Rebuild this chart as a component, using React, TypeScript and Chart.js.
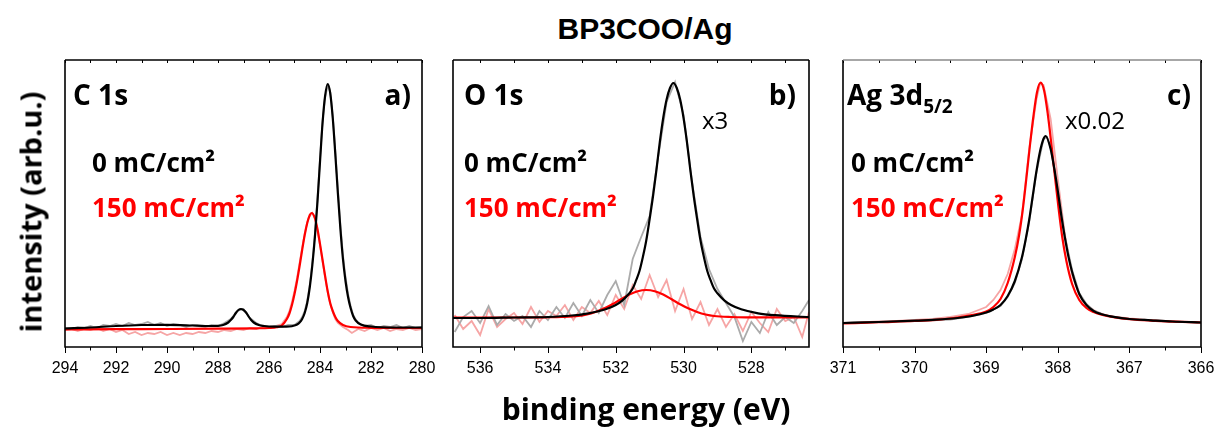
import React, { useEffect, useRef } from "react";
import { Chart, registerables } from "chart.js";

Chart.register(...registerables);

type Pt = [number, number];

// ---------- Panel a) C 1s ----------
const c1sFit0: Pt[] = [[294, 18.5], [293, 19.5], [292, 21], [291, 22], [290, 22.2], [289, 21.5], [288.5, 21], [288, 21.2], [287.8, 22], [287.6, 24.5], [287.5, 27], [287.4, 30], [287.3, 34], [287.2, 37], [287.1, 38], [287.0, 37], [286.9, 34.5], [286.8, 30.5], [286.7, 27], [286.6, 24.5], [286.4, 22], [286.2, 21], [286, 20.5], [285.5, 20.3], [285.2, 20.5], [285.0, 21.5], [284.9, 22.5], [284.8, 24.5], [284.7, 28], [284.6, 34], [284.5, 44], [284.4, 60], [284.3, 82], [284.2, 110], [284.1, 145], [284.0, 185], [283.9, 224], [283.8, 251], [283.7, 263], [283.6, 254], [283.5, 229], [283.4, 193], [283.3, 154], [283.2, 118], [283.1, 88], [283.0, 66], [282.9, 50], [282.8, 39], [282.7, 31], [282.6, 26.5], [282.4, 22.5], [282.0, 20.5], [281, 19.5], [280, 19.5]];
const c1sFit150: Pt[] = [[294, 17.5], [292, 17.8], [290, 18], [288, 18.3], [286.5, 18.7], [286, 19], [285.7, 19.7], [285.5, 21.5], [285.3, 28], [285.2, 33.5], [285.1, 42], [285.0, 53], [284.9, 66], [284.8, 81], [284.7, 97], [284.6, 112], [284.5, 124], [284.4, 132], [284.33, 134], [284.2, 129], [284.1, 118], [284.0, 103], [283.9, 87], [283.8, 71], [283.7, 56], [283.6, 44], [283.5, 36], [283.4, 30], [283.3, 26], [283.1, 22], [282.8, 20], [282.0, 19.2], [280, 19]];
const c1sRaw0: Pt[] = [[294, 19], [293.75, 18], [293.5, 20], [293.25, 19], [293, 21], [292.75, 19], [292.5, 22], [292.25, 21], [292, 23], [291.75, 21], [291.5, 24], [291.25, 22], [291, 23], [290.75, 25], [290.5, 22], [290.25, 24], [290, 21], [289.75, 23], [289.5, 22], [289.25, 20], [289, 22], [288.75, 21], [288.5, 20], [288.25, 22], [288, 21], [287.75, 24], [287.5, 28], [287.25, 36], [287, 38], [286.75, 29], [286.5, 24], [286.25, 21], [286, 20], [285.75, 21], [285.5, 20], [285.25, 22], [285.0, 22], [284.9, 24], [284.8, 26], [284.7, 30], [284.6, 36], [284.5, 46], [284.4, 62], [284.3, 85], [284.2, 113], [284.1, 148], [284.0, 188], [283.9, 226], [283.8, 250], [283.7, 261], [283.6, 255], [283.5, 231], [283.4, 196], [283.3, 158], [283.2, 122], [283.1, 92], [283.0, 70], [282.9, 53], [282.8, 41], [282.7, 32], [282.6, 27.5], [282.5, 24], [282.25, 21], [282, 22], [281.75, 19], [281.5, 21], [281.25, 20], [281, 22], [280.75, 19], [280.5, 21], [280.25, 19], [280, 20]];
const c1sRaw150: Pt[] = [[294, 17], [293.75, 18], [293.5, 16], [293.25, 18], [293, 17], [292.75, 19], [292.5, 16], [292.25, 18], [292, 15], [291.75, 17], [291.5, 13], [291.25, 15], [291, 12], [290.75, 14], [290.5, 13], [290.25, 15], [290, 12], [289.75, 14], [289.5, 12], [289.25, 14], [289, 13], [288.75, 15], [288.5, 14], [288.25, 16], [288, 15], [287.75, 17], [287.5, 16], [287.25, 18], [287, 17], [286.75, 19], [286.5, 18], [286.25, 20], [286, 19], [285.75, 21], [285.5, 23], [285.3, 30], [285.2, 36], [285.1, 45], [285.0, 56], [284.9, 69], [284.8, 84], [284.7, 99], [284.6, 113], [284.5, 125], [284.4, 131], [284.3, 134], [284.2, 128], [284.1, 117], [284.0, 102], [283.9, 86], [283.8, 70], [283.7, 55], [283.6, 43], [283.5, 35], [283.4, 28], [283.3, 24], [283.1, 20], [282.9, 17], [282.75, 14], [282.5, 18], [282.25, 16], [282, 19], [281.75, 17], [281.5, 19], [281.25, 16], [281, 18], [280.75, 17], [280.5, 19], [280.25, 17], [280, 18]];

// ---------- Panel b) O 1s ----------
const o1sFit0: Pt[] = [[536.8, 29], [536, 29], [535, 29.5], [534, 30], [533.3, 31.5], [532.8, 33.7], [532.3, 37.7], [532.0, 42], [531.8, 46.6], [531.6, 53.7], [531.5, 58.4], [531.4, 66.6], [531.3, 76], [531.2, 90], [531.1, 106.5], [531.0, 128], [530.9, 151], [530.8, 177], [530.7, 205], [530.6, 229], [530.5, 247.5], [530.4, 259], [530.3, 264], [530.2, 259], [530.1, 247.5], [530.0, 229], [529.9, 205], [529.8, 177], [529.7, 151], [529.6, 128], [529.5, 106.5], [529.4, 90], [529.3, 76], [529.2, 66.6], [529.1, 58.4], [529.0, 53.7], [528.8, 46.6], [528.6, 42], [528.3, 37.7], [527.8, 33.7], [527.3, 31.8], [526.3, 30]];
const o1sFit150: Pt[] = [[536.8, 29.5], [534.5, 29.5], [534.1, 29.7], [533.6, 30], [533.1, 31], [532.85, 32.5], [532.6, 35], [532.35, 38.4], [532.1, 42.7], [531.85, 47.7], [531.6, 52.4], [531.35, 55.8], [531.1, 57], [530.85, 55.8], [530.6, 52.4], [530.35, 47.7], [530.1, 42.7], [529.85, 38.4], [529.6, 35], [529.35, 32.5], [529.1, 31], [528.6, 30], [528.1, 29.7], [526.3, 29.5]];
const o1sRaw0: Pt[] = [[536.75, 15], [536.5, 30], [536.25, 36], [536.0, 24], [535.75, 41], [535.5, 22], [535.25, 33], [535.0, 26], [534.75, 31], [534.5, 20], [534.25, 36], [534.0, 27], [533.75, 40], [533.5, 29], [533.25, 44], [533.0, 31], [532.75, 47], [532.5, 34], [532.25, 52], [532.0, 66], [531.75, 42], [531.5, 88], [531.25, 110], [531.0, 131], [530.75, 190], [530.5, 245], [530.25, 265], [530.0, 232], [529.75, 165], [529.5, 110], [529.25, 78], [529.0, 58], [528.75, 44], [528.5, 30], [528.25, 6], [528.0, 25], [527.75, 14], [527.5, 35], [527.25, 22], [527.0, 30], [526.75, 24], [526.5, 36], [526.3, 47]];
const o1sRaw150: Pt[] = [[536.75, 32], [536.5, 18], [536.25, 26], [536.0, 12], [535.75, 38], [535.5, 20], [535.25, 28], [535.0, 34], [534.75, 23], [534.5, 40], [534.25, 25], [534.0, 36], [533.75, 31], [533.5, 42], [533.25, 27], [533.0, 40], [532.75, 34], [532.5, 46], [532.25, 32], [532.0, 52], [531.75, 38], [531.5, 62], [531.25, 48], [531.0, 72], [530.75, 50], [530.5, 67], [530.25, 36], [530.0, 58], [529.75, 28], [529.5, 45], [529.25, 22], [529.0, 38], [528.75, 20], [528.5, 33], [528.25, 16], [528.0, 35], [527.75, 24], [527.5, 15], [527.25, 38], [527.0, 26], [526.75, 30], [526.5, 10], [526.3, 35]];

// ---------- Panel c) Ag 3d5/2 ----------
const ag3dFit0: Pt[] = [[371, 24], [370.5, 25], [370, 26.3], [369.7, 27.3], [369.4, 29], [369.2, 31], [369.0, 34.5], [368.9, 37.5], [368.8, 42], [368.7, 51], [368.6, 66], [368.5, 90], [368.45, 107], [368.4, 127], [368.35, 151], [368.3, 175], [368.25, 195], [368.2, 208], [368.17, 211], [368.1, 198], [368.05, 179], [368.0, 156], [367.95, 131], [367.9, 109], [367.85, 90], [367.8, 75], [367.7, 53], [367.6, 42], [367.5, 36], [367.4, 33], [367.2, 29.8], [367.0, 28], [366.7, 26.7], [366.4, 25.5], [366, 24.5]];
const ag3dFit150: Pt[] = [[371, 23.5], [370.5, 24.8], [370, 26], [369.7, 27.2], [369.4, 29.5], [369.2, 32], [369.0, 35.5], [368.9, 40], [368.8, 48], [368.7, 64], [368.6, 90], [368.54, 112], [368.49, 137], [368.44, 168], [368.39, 201], [368.34, 231], [368.29, 255], [368.24, 264.3], [368.19, 256], [368.14, 233], [368.09, 203], [368.04, 170.5], [367.99, 139], [367.94, 111], [367.88, 86], [367.8, 63], [367.7, 47], [367.6, 39], [367.5, 35], [367.4, 32.6], [367.2, 29.7], [367.0, 27.9], [366.7, 26.4], [366.4, 25.4], [366, 24.5]];
const ag3dRaw0: Pt[] = [[371, 24], [370.5, 25], [370, 26], [369.5, 27.5], [369.2, 31], [369, 34], [368.8, 41], [368.7, 50], [368.6, 64], [368.5, 88], [368.4, 125], [368.3, 174], [368.2, 208], [368.15, 210], [368.1, 199], [368.0, 157], [367.9, 110], [367.8, 77], [367.7, 54], [367.6, 43], [367.5, 36.5], [367.3, 31], [367, 28], [366.5, 26], [366, 24.5]];
const ag3dRaw150: Pt[] = [[371, 24], [370.75, 24.5], [370.5, 25.5], [370.25, 26], [370, 27], [369.75, 28], [369.5, 30], [369.25, 33], [369.0, 40], [368.9, 47], [368.8, 57], [368.7, 73], [368.6, 98], [368.5, 132], [368.4, 198], [368.3, 247], [368.25, 263], [368.2, 262], [368.1, 228], [368.0, 168], [367.9, 112], [367.8, 72], [367.7, 52], [367.6, 42], [367.5, 37], [367.4, 33.5], [367.25, 30.5], [367, 28.5], [366.75, 27], [366.5, 26], [366.25, 25], [366, 24.5]];

// axis ranges (binding energy, eV)
const c1sRange = [280, 294];
const o1sRange = [526.3, 536.8];
const ag3dRange = [366, 371];

const BLACK = "#000000";
const RED = "#ff0000";
const GRAY_RAW = "#ababab";
const PINK_RAW = "#f6a5a5";

type PanelCfg = {
  left: number;
  right: number;
  range: number[];
  step: number;
  isMajor: (v: number) => boolean;
  fit0: Pt[];
  fit150: Pt[];
  raw0: Pt[];
  raw150: Pt[];
  topColor: string;
};

const TOP = 60;
const BOTTOM = 347;
const CANVAS_TOP = 50;
const AXIS_H = 40;
const PAD = 20;

function makeFramePlugin(cfg: PanelCfg) {
  return {
    id: "frame",
    afterDatasetsDraw(chart: any) {
      const { ctx, chartArea } = chart;
      const { left, right, top, bottom } = chartArea;
      const xs = chart.scales.x;
      ctx.save();
      ctx.lineWidth = 1;
      ctx.strokeStyle = "#000";
      xs.ticks.forEach((t: any) => {
        const px = Math.round(xs.getPixelForValue(t.value)) + 0.5;
        const major = cfg.isMajor(t.value);
        ctx.beginPath();
        ctx.moveTo(px, bottom);
        ctx.lineTo(px, bottom + (major ? 6 : 3.5));
        ctx.stroke();
        ctx.beginPath();
        ctx.moveTo(px, top);
        ctx.lineTo(px, top + 3);
        ctx.stroke();
      });
      ctx.lineWidth = 1.6;
      ctx.beginPath();
      ctx.moveTo(left, top);
      ctx.lineTo(left, bottom);
      ctx.lineTo(right, bottom);
      ctx.lineTo(right, top);
      ctx.stroke();
      ctx.strokeStyle = cfg.topColor;
      ctx.beginPath();
      ctx.moveTo(left, top);
      ctx.lineTo(right, top);
      ctx.stroke();
      ctx.restore();
    },
  };
}

function toXY(a: Pt[]) {
  return a.map(([x, y]) => ({ x, y }));
}

function Panel({ cfg }: { cfg: PanelCfg }) {
  const ref = useRef<HTMLCanvasElement>(null);
  const width = cfg.right - cfg.left + 2 * PAD;
  const height = BOTTOM - CANVAS_TOP + AXIS_H;
  useEffect(() => {
    if (!ref.current) return;
    const chart = new Chart(ref.current, {
      type: "line",
      data: {
        datasets: [
          { data: toXY(cfg.fit0), borderColor: BLACK, borderWidth: 2.2, cubicInterpolationMode: "monotone" },
          { data: toXY(cfg.fit150), borderColor: RED, borderWidth: 2.2, cubicInterpolationMode: "monotone" },
          { data: toXY(cfg.raw0), borderColor: GRAY_RAW, borderWidth: 1.8, tension: 0 },
          { data: toXY(cfg.raw150), borderColor: PINK_RAW, borderWidth: 1.8, tension: 0 },
        ] as any,
      },
      options: {
        animation: false,
        responsive: false,
        devicePixelRatio: 1,
        layout: { padding: { left: PAD, right: PAD, top: TOP - CANVAS_TOP, bottom: 0 } },
        elements: { point: { radius: 0 }, line: { fill: false } },
        plugins: { legend: { display: false }, tooltip: { enabled: false } },
        scales: {
          x: {
            type: "linear",
            min: cfg.range[0],
            max: cfg.range[1],
            reverse: true,
            grid: { display: false, drawTicks: false },
            border: { display: false },
            afterFit: (s: any) => {
              s.height = AXIS_H;
              s.paddingLeft = 0;
              s.paddingRight = 0;
            },
            ticks: {
              stepSize: cfg.step,
              includeBounds: false,
              autoSkip: false,
              maxRotation: 0,
              padding: 12,
              color: "#000",
              font: { family: "'Liberation Sans', Arial, sans-serif", size: 16 },
              callback: (v: any) => (cfg.isMajor(Number(v)) ? String(Math.round(Number(v))) : ""),
            },
          },
          y: { display: false, min: 0, max: BOTTOM - TOP },
        },
      } as any,
      plugins: [makeFramePlugin(cfg)],
    });
    return () => chart.destroy();
  }, []);
  return (
    <canvas
      ref={ref}
      width={width}
      height={height}
      style={{ position: "absolute", left: cfg.left - PAD, top: CANVAS_TOP, width, height }}
    />
  );
}

const panelA: PanelCfg = {
  left: 65, right: 422, range: c1sRange, step: 1, isMajor: (v) => Math.round(v) % 2 === 0,
  fit0: c1sFit0, fit150: c1sFit150, raw0: c1sRaw0, raw150: c1sRaw150, topColor: "#000",
};
const panelB: PanelCfg = {
  left: 453, right: 809, range: o1sRange, step: 1, isMajor: (v) => Math.round(v) % 2 === 0,
  fit0: o1sFit0, fit150: o1sFit150, raw0: o1sRaw0, raw150: o1sRaw150, topColor: "#000",
};
const panelC: PanelCfg = {
  left: 843, right: 1201, range: ag3dRange, step: 0.5, isMajor: (v) => Math.abs(v - Math.round(v)) < 1e-6,
  fit0: ag3dFit0, fit150: ag3dFit150, raw0: ag3dRaw0, raw150: ag3dRaw150, topColor: "#8a8a8a",
};

const SANS = "'Open Sans', 'Noto Sans', sans-serif";

function T(props: { x?: number; r?: number; y: number; size: number; bold?: boolean; color?: string; children: any }) {
  const st: any = {
    position: "absolute",
    top: props.y,
    fontSize: props.size,
    lineHeight: 1,
    fontWeight: props.bold ? 700 : 400,
    color: props.color || "#000",
    fontFamily: SANS,
    whiteSpace: "nowrap",
  };
  if (props.r !== undefined) st.right = 1215 - props.r;
  else st.left = props.x;
  return <div style={st}>{props.children}</div>;
}

export default function App() {
  return (
    <div style={{ position: "absolute", left: 0, top: 0, width: 1215, height: 433, background: "#fff", overflow: "hidden" }}>
      <div
        style={{
          position: "absolute", left: 645, top: 14, transform: "translateX(-50%)",
          fontFamily: "'Liberation Sans', Arial, sans-serif", fontWeight: 700, fontSize: 30, lineHeight: 1, whiteSpace: "nowrap",
        }}
      >
        BP3COO/Ag
      </div>
      <Panel cfg={panelA} />
      <Panel cfg={panelB} />
      <Panel cfg={panelC} />

      <T x={73} y={80} size={28} bold>C 1s</T>
      <T r={411} y={80} size={28} bold>a)</T>
      <T x={92} y={149} size={26} bold>0 mC/cm²</T>
      <T x={92} y={194} size={26} bold color={RED}>150 mC/cm²</T>

      <T x={464} y={80} size={28} bold>O 1s</T>
      <T r={796} y={80} size={28} bold>b)</T>
      <T x={702} y={108} size={24}>x3</T>
      <T x={464} y={149} size={26} bold>0 mC/cm²</T>
      <T x={464} y={194} size={26} bold color={RED}>150 mC/cm²</T>

      <T x={847} y={80} size={28} bold>
        Ag 3d
        <span style={{ fontSize: 19, position: "relative", top: 8 }}>5/2</span>
      </T>
      <T r={1191} y={80} size={28} bold>c)</T>
      <T x={1065} y={108} size={24}>x0.02</T>
      <T x={851} y={149} size={26} bold>0 mC/cm²</T>
      <T x={851} y={194} size={26} bold color={RED}>150 mC/cm²</T>

      <div
        style={{
          position: "absolute", left: 30, top: 212, transform: "translate(-50%, -50%) rotate(-90deg)",
          fontFamily: SANS, fontWeight: 700, fontSize: 29, lineHeight: 1, whiteSpace: "nowrap",
        }}
      >
        intensity (arb.u.)
      </div>
      <div
        style={{
          position: "absolute", left: 646, top: 394, transform: "translateX(-50%)",
          fontFamily: SANS, fontWeight: 700, fontSize: 30, lineHeight: 1, whiteSpace: "nowrap",
        }}
      >
        binding energy (eV)
      </div>
    </div>
  );
}
